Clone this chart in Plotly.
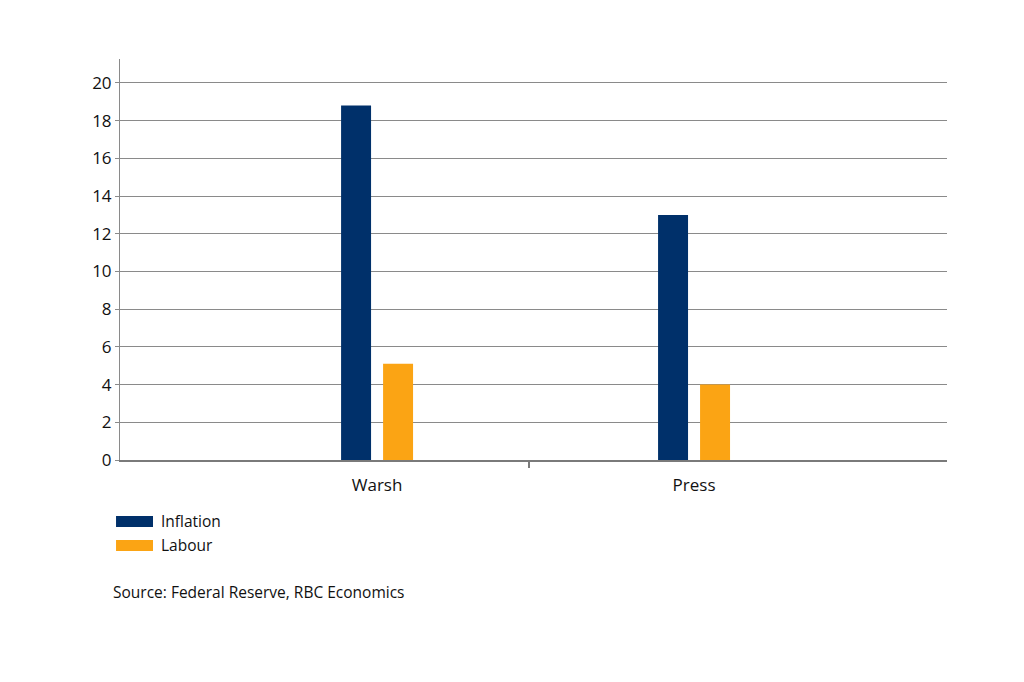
import plotly.graph_objects as go

categories = ["Warsh", "Press"]
inflation = [18.8, 13.0]
labour = [5.1, 4.0]
y_ticks = list(range(0, 21, 2))
source_text = "Source: Federal Reserve, RBC Economics"

NAVY = "#00306A"
GOLD = "#FBA414"
GRID = "#8a8a8a"
FONT = "Open Sans, Noto Sans, sans-serif"

fig = go.Figure()
fig.add_trace(go.Bar(x=[0, 1], y=inflation, name="Inflation", marker_color=NAVY,
                     marker_line_width=0, showlegend=False))
fig.add_trace(go.Bar(x=[0, 1], y=labour, name="Labour", marker_color=GOLD,
                     marker_line_width=0, showlegend=False))

fig.update_layout(
    width=1024, height=682,
    margin=dict(l=120, r=77, t=59, b=222),
    paper_bgcolor="white", plot_bgcolor="white",
    barmode="group", bargap=0.735, bargroupgap=0.286,
    font=dict(family=FONT, color="#111111"),
    xaxis=dict(
        range=[-0.811, 1.798],
        tickvals=[0, 1], ticktext=categories,
        ticks="", showgrid=False, zeroline=False,
        showline=True, linecolor="#7a7a7a", linewidth=2,
        tickfont=dict(size=17, family=FONT, color="#111111"),
        ticklabelstandoff=9,
    ),
    xaxis2=dict(
        overlaying="x", matches="x", side="bottom",
        tickvals=[0.48], ticktext=[""], ticks="outside", ticklen=7,
        tickwidth=2, tickcolor="#7a7a7a", showgrid=False, zeroline=False,
        showline=False, showticklabels=False,
    ),
    yaxis=dict(
        range=[0, 21.27], tickvals=y_ticks,
        ticks="outside", ticklen=4, tickcolor=GRID, tickwidth=1,
        showgrid=True, gridcolor=GRID, gridwidth=1,
        zeroline=False, showline=True, linecolor=GRID, linewidth=1,
        tickfont=dict(size=17, family=FONT, color="#111111"),
        ticklabelstandoff=0,
    ),
)

# invisible trace to activate xaxis2 (boundary tick)
fig.add_trace(go.Scatter(x=[0.48], y=[0], xaxis="x2", mode="markers",
                         marker=dict(opacity=0), showlegend=False, hoverinfo="skip"))

# custom legend (wide swatches) in paper coordinates
legend_items = [("Inflation", NAVY, -0.1397, -0.167, -0.152),
                ("Labour", GOLD, -0.1995, -0.227, -0.212)]
for name, col, y1, y0, yt in legend_items:
    fig.add_shape(type="rect", xref="paper", yref="paper",
                  x0=-0.0048, x1=0.0399, y0=y0, y1=y1,
                  fillcolor=col, line_width=0)
    fig.add_annotation(text=name, xref="paper", yref="paper", x=0.0472, y=yt,
                       xanchor="left", yanchor="middle", showarrow=False,
                       font=dict(size=15.5, family=FONT, color="#111111"))

fig.add_annotation(text=source_text, xref="paper", yref="paper", x=-0.011, y=-0.329,
                   xanchor="left", yanchor="middle", showarrow=False,
                   font=dict(size=15.5, family=FONT, color="#111111"))

fig.write_html("out.html")
